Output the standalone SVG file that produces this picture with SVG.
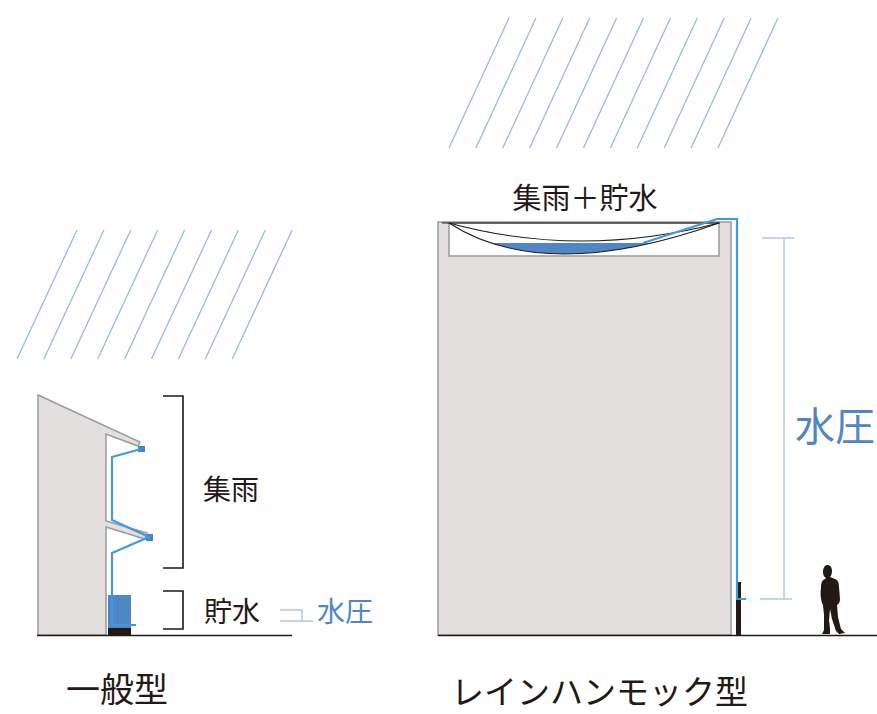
<svg xmlns="http://www.w3.org/2000/svg" width="877" height="714" viewBox="0 0 877 714">
  <style>
    .rain { stroke: #93bbe8; stroke-width: 1.3; fill: none; }
    .wall { fill: #e3dfdf; stroke: #9a9a9a; stroke-width: 1.5; }
    .pipe { stroke: #3f9ae0; stroke-width: 2.2; fill: none; stroke-linejoin: miter; }
    .ink { stroke: #231815; fill: none; }
    .dim { stroke: #a9c9ee; stroke-width: 1.5; fill: none; }
    .t { font-family: "Noto Sans CJK JP", "Noto Sans", sans-serif; fill: #231815; }
    .tb { font-family: "Noto Sans CJK JP", "Noto Sans", sans-serif; fill: #4f86c6; }
  </style>
  <defs>
    <clipPath id="waterLevel">
      <rect x="440" y="243" width="290" height="20"/>
    </clipPath>
  </defs>

  <rect width="877" height="714" fill="#ffffff"/>

  <!-- rain over the general type -->
  <g id="rain-left" class="rain">
    <line x1="17" y1="359" x2="77" y2="230"/>
    <line x1="43.9" y1="359" x2="103.9" y2="230"/>
    <line x1="70.8" y1="359" x2="130.8" y2="230"/>
    <line x1="97.7" y1="359" x2="157.7" y2="230"/>
    <line x1="124.6" y1="359" x2="184.6" y2="230"/>
    <line x1="151.5" y1="359" x2="211.5" y2="230"/>
    <line x1="178.4" y1="359" x2="238.4" y2="230"/>
    <line x1="205.3" y1="359" x2="265.3" y2="230"/>
    <line x1="232.2" y1="359" x2="292.2" y2="230"/>
  </g>

  <!-- rain over the hammock type -->
  <g id="rain-right" class="rain">
    <line x1="449" y1="148" x2="509" y2="18"/>
    <line x1="475.9" y1="148" x2="535.9" y2="18"/>
    <line x1="502.8" y1="148" x2="562.8" y2="18"/>
    <line x1="529.7" y1="148" x2="589.7" y2="18"/>
    <line x1="556.6" y1="148" x2="616.6" y2="18"/>
    <line x1="583.5" y1="148" x2="643.5" y2="18"/>
    <line x1="610.4" y1="148" x2="670.4" y2="18"/>
    <line x1="637.3" y1="148" x2="697.3" y2="18"/>
    <line x1="664.2" y1="148" x2="724.2" y2="18"/>
    <line x1="691.1" y1="148" x2="751.1" y2="18"/>
    <line x1="718" y1="148" x2="778" y2="18"/>
  </g>

  <!-- general type: house with eaves and a ground tank -->
  <g id="building-general">
    <path class="wall" d="M38,395 L140,442 L138,446 L106,434 L106,521 L147,533 L145,539 L106,527 L106,635 L38,635 Z"/>
    <rect x="108" y="595" width="23" height="33" fill="#4f86c6"/>
    <rect x="108" y="628" width="23" height="7" fill="#231815"/>
    <rect x="138" y="446" width="7" height="6" fill="#3f86d0"/>
    <rect x="146" y="534" width="7" height="7" fill="#3f86d0"/>
  </g>

  <!-- hammock type: tall block with roof membrane -->
  <g id="building-hammock">
    <rect class="wall" x="438" y="222" width="293" height="413"/>
    <path d="M449,223 L449,256 L719,256 L719,223 Z" fill="#ffffff" stroke="#9a9a9a" stroke-width="1.5"/>
    <path d="M449,223 Q545,285 719,223 Z" fill="#4f86c6" clip-path="url(#waterLevel)"/>
    <line class="ink" x1="442" y1="223" x2="720" y2="223" stroke-width="1.2"/>
    <path class="ink" d="M449,223 Q580,259 719,223" stroke-width="1.1"/>
    <path class="ink" d="M449,223 Q545,285 719,223" stroke-width="1.1"/>
    <rect x="736" y="582" width="5" height="54" fill="#231815"/>
  </g>

  <!-- downpipes -->
  <g id="connectors">
    <path class="pipe" d="M141,449 L112,457 L112,520 L149,537 L112,553 L112,625 L136,625"/>
    <path class="pipe" d="M643,243 L717,219 L737,219 L737,599 L746,599"/>
  </g>

  <!-- ground lines -->
  <g id="ground" class="ink" stroke-width="1.5">
    <line x1="37" y1="635.5" x2="292" y2="635.5"/>
    <line x1="438" y1="635.5" x2="877" y2="635.5"/>
  </g>

  <!-- brackets -->
  <g id="bracket-collect" class="ink" stroke-width="1.6">
    <polyline points="163,396 183,396 183,568 163,568"/>
  </g>
  <g id="bracket-store" class="ink" stroke-width="1.6">
    <polyline points="163,591 183,591 183,629 163,629"/>
  </g>

  <!-- head mark for the small water pressure -->
  <g id="pressure-mark" class="dim" stroke="#8fb6e6">
    <line x1="280" y1="610" x2="303" y2="610"/>
    <line x1="302" y1="610" x2="302" y2="621"/>
    <line x1="280" y1="621" x2="313" y2="621"/>
  </g>

  <!-- dimension for the large water pressure -->
  <g id="pressure-dimension" class="dim">
    <line x1="784" y1="238" x2="784" y2="599"/>
    <line x1="762" y1="238" x2="794" y2="238"/>
    <line x1="760" y1="599" x2="792" y2="599"/>
  </g>

  <!-- person for scale -->
  <g id="person">
    <path fill="#231815" d="M827,565 C830,565 832,567 832,571 C832,574 831,576 830,577 L835,579 C838,580 839,583 839,587 L840,599 C840,602 839,604 837,605 L838,617 L841,629 L845,633 L839,634 L836,631 L832,619 L830,609 L829,620 L830,629 L830,634 L822,634 L824,630 L824,615 L823,605 C821,601 820,595 821,588 C821,583 822,580 825,579 L826,578 C824,577 823,575 823,572 C823,568 825,565 827,565 Z"/>
  </g>

  <!-- labels -->
  <g id="labels">
    <text class="t" x="585" y="209" font-size="29" text-anchor="middle">集雨＋貯水</text>
    <text class="t" x="203" y="500" font-size="28">集雨</text>
    <text class="t" x="204" y="622" font-size="28">貯水</text>
    <text class="tb" x="317" y="622" font-size="28">水圧</text>
    <text class="tb" x="795" y="441" font-size="40">水圧</text>
    <text class="t" x="66" y="702" font-size="34">一般型</text>
    <text class="t" x="451" y="704" font-size="33">レインハンモック型</text>
  </g>
</svg>
